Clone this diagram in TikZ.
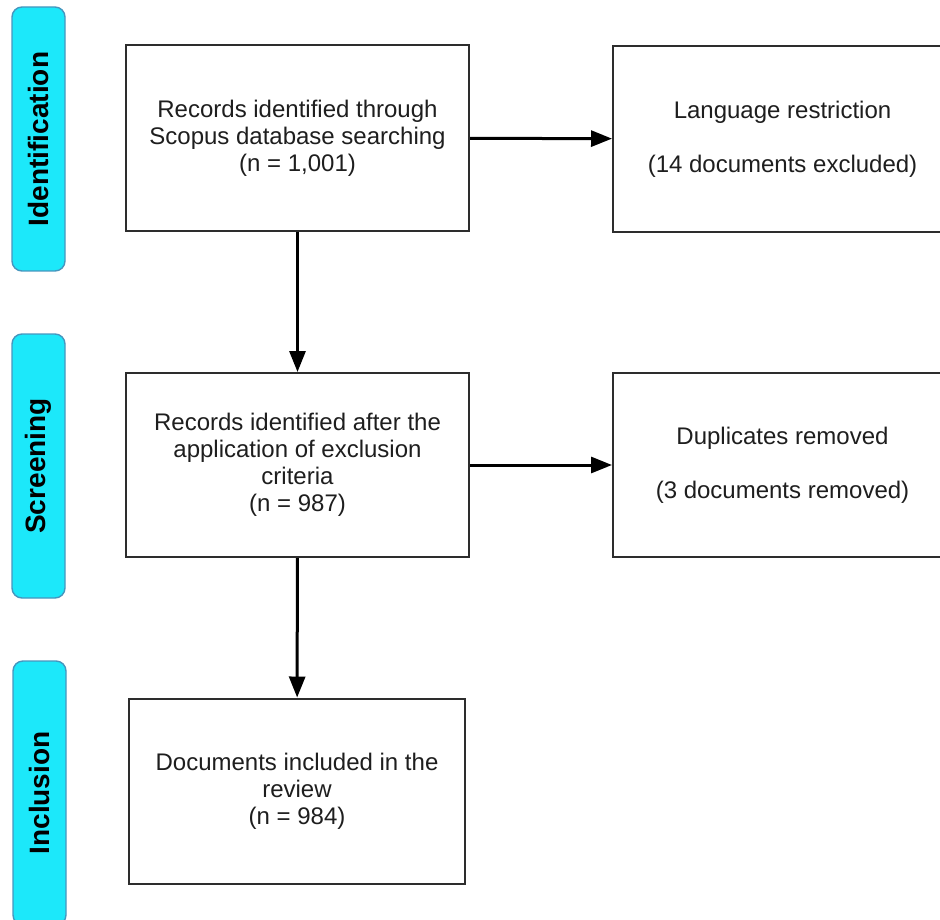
\documentclass[tikz,border=0pt]{standalone}
\usepackage{fontspec}
\setmainfont{Liberation Sans}
\usepackage{tikz}
\usetikzlibrary{arrows.meta, positioning, calc}
\definecolor{tabcyan}{RGB}{28, 232, 250}
\definecolor{tabedge}{RGB}{70, 150, 190}
\definecolor{boxedge}{RGB}{45, 45, 45}
\definecolor{textgray}{RGB}{30, 30, 30}

\begin{document}
\begin{tikzpicture}[x=0.5pt, y=-0.5pt,
    stagebox/.style={draw=boxedge, line width=1pt, fill=white, align=center,
      text=textgray, font=\fontsize{12}{13.5}\selectfont, inner sep=0pt},
    phasetab/.style={draw=tabedge, line width=0.7pt, fill=tabcyan, rounded corners=5pt,
      minimum width=26.5pt, minimum height=132pt, inner sep=0pt},
    phaselabel/.style={rotate=90, font=\fontsize{14}{16}\selectfont\bfseries, text=black},
    flow/.style={line width=1.5pt, -{Triangle[length=10.5pt, width=8pt]}}]
  \clip (0,0) rectangle (940,919);
  \useasboundingbox (0,0) rectangle (940,919);

  % Phase tabs on the left
  \node[phasetab] (tabid) at (38.5,139) {};
  \node[phaselabel] at (tabid) {Identification};
  \node[phasetab] (tabscr) at (38.5,466) {};
  \node[phaselabel] at (tabscr) {Screening};
  \node[phasetab] (tabinc) at (39.5,793) {};
  \node[phaselabel] at (tabinc) {Inclusion};

  % Main column
  \node[stagebox, minimum width=171.5pt, minimum height=93pt] (records) at (297.5,138)
    {Records identified through\\Scopus database searching\\(n = 1,001)};
  \node[stagebox, minimum width=171.5pt, minimum height=92pt] (screened) at (297.5,465)
    {Records identified after the\\application of exclusion\\criteria\\(n = 987)};
  \node[stagebox, minimum width=168pt, minimum height=92.5pt] (included) at (297,791)
    {Documents included in the\\review\\(n = 984)};

  % Exclusions on the right
  \node[stagebox, minimum width=169.5pt, minimum height=93pt] (language) at (782.5,139)
    {Language restriction\\[13.5pt](14 documents excluded)};
  \node[stagebox, minimum width=169.5pt, minimum height=92pt] (duplicates) at (782.5,465)
    {Duplicates removed\\[13.5pt](3 documents removed)};

  % Arrows
  \draw[flow] (records) -- (screened);
  \draw[flow] (screened) -- (included);
  \draw[flow] (records) -- (language);
  \draw[flow] (screened) -- (duplicates);
\end{tikzpicture}
\end{document}
